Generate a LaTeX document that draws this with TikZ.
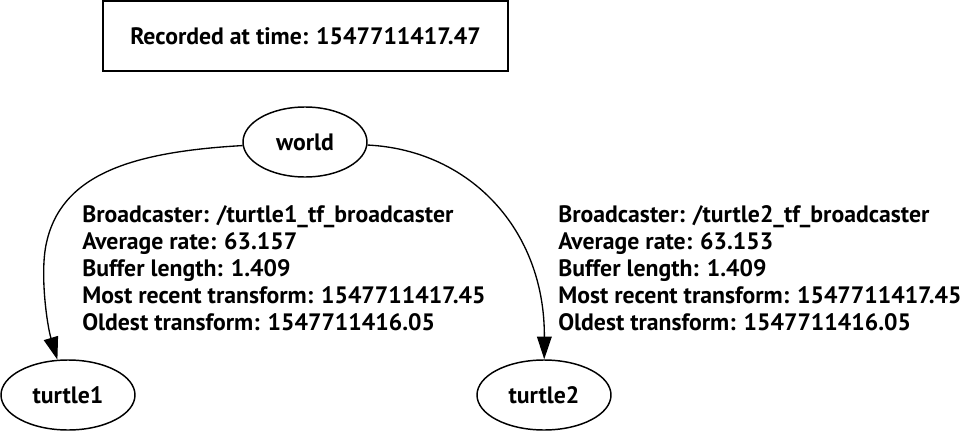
\documentclass[tikz,border=0pt]{standalone}
\usepackage{fontspec}
\setmainfont{PT Sans}
\usetikzlibrary{shapes.geometric,arrows.meta}

\begin{document}
\begin{tikzpicture}[x=0.75pt,y=-0.75pt,font=\fontsize{17.8}{20.25}\selectfont\bfseries,
	stamp/.style={draw,line width=1.2pt,minimum width=303.75pt,minimum height=52.5pt,inner sep=0pt},
	frame/.style={draw,ellipse,line width=1.1pt,inner sep=0pt,minimum height=52.5pt},
	tfedge/.style={line width=1pt,-{Triangle[length=17pt,width=11pt]}},
	tfinfo/.style={anchor=west,align=left,inner sep=0pt}]
			%%%%% START %%%%%
			\def\ytop{142}
			\def\ybot{395}
			\def\yinfo{268}
			
			\useasboundingbox (0,0) rectangle (964,432);
			
			\node[stamp] (stamp) at (305.5,36) {Recorded at time: 1547711417.47};
			
			\node[frame,minimum width=93pt] (world) at (305,\ytop) {world};
			\node[frame,minimum width=100.5pt] (turtle1) at (68,\ybot) {turtle1};
			\node[frame,minimum width=100.5pt] (turtle2) at (544,\ybot) {turtle2};
			
			\draw[tfedge] (world) .. controls (130,152) and (60,175) .. (46,245) .. controls (40,275) and (47,325) .. (turtle1);
			\draw[tfedge] (world) .. controls (470,150) and (545,230) .. (turtle2);
			
			\node[tfinfo] (info1) at (82,\yinfo) {Broadcaster: /turtle1\_tf\_broadcaster\\Average rate: 63.157\\Buffer length: 1.409\\Most recent transform: 1547711417.45\\Oldest transform: 1547711416.05};
			\node[tfinfo] (info2) at (558,\yinfo) {Broadcaster: /turtle2\_tf\_broadcaster\\Average rate: 63.153\\Buffer length: 1.409\\Most recent transform: 1547711417.45\\Oldest transform: 1547711416.05};
			%%%%% END %%%%%
\end{tikzpicture}
\end{document}
